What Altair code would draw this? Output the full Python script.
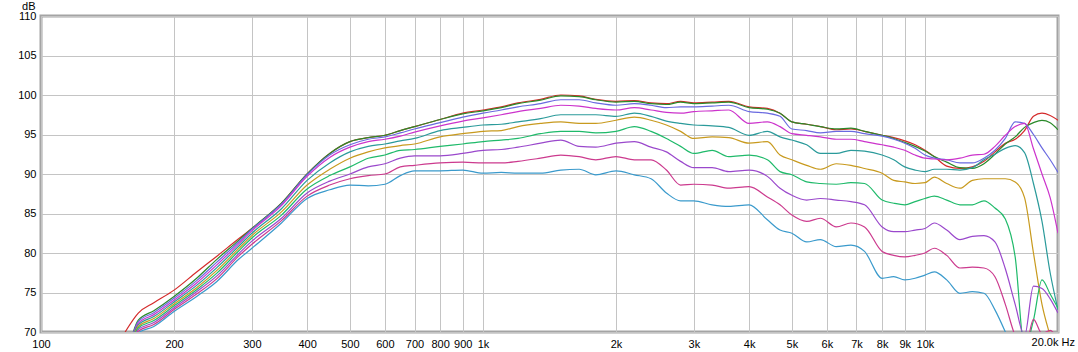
import altair as alt
import pandas as pd

# Frequencies (Hz) shared by every curve
FREQ = [155, 166, 180, 200, 225, 250, 280, 300, 350,
        400, 450, 500, 550, 600, 650, 700, 800, 900, 1000,
        1100, 1200, 1350, 1500, 1650, 1800, 2000, 2200, 2400, 2600, 2800,
        3000, 3300, 3600, 4000, 4400, 4700, 5000, 5400, 5800,
        6300, 6800, 7300, 8000, 8500, 9000, 9500, 10000, 10500, 11200,
        12000, 12800, 13600, 14400, 15200, 16000, 16800, 17600, 18400, 19200, 20000]

RED = [70.0, 72.4, 73.7, 75.3, 77.6, 79.6, 81.8, 83.1, 86.3,
       90.0, 92.6, 94.1, 94.6, 94.9, 95.5, 96.0, 96.9, 97.7, 98.1,
       98.5, 99.0, 99.45, 100.0, 99.9, 99.45, 99.2, 99.3, 99.0, 98.9, 99.2,
       99.0, 99.1, 99.2, 98.5, 98.3, 97.7, 96.6, 96.3, 96.0,
       95.6, 95.7, 95.4, 94.9, 94.6, 94.2, 93.7, 93.0, 92.2, 91.0,
       90.7, 90.9, 91.6, 92.8, 93.9, 94.4, 95.5, 97.3, 97.7, 97.4, 96.8]
DGREEN = [66.0, 71.5, 72.7, 74.5, 76.8, 79.2, 81.6, 83.1, 86.3,
          90.0, 92.6, 94.1, 94.6, 94.9, 95.5, 96.0, 96.9, 97.6, 98.0,
          98.4, 98.9, 99.35, 99.9, 99.8, 99.4, 99.1, 99.2, 98.9, 98.8, 99.1,
          98.9, 99.0, 99.1, 98.4, 98.2, 97.7, 96.6, 96.3, 96.0,
          95.7, 95.8, 95.4, 94.9, 94.5, 94.0, 93.5, 92.9, 92.2, 91.5,
          90.8, 90.7, 91.3, 92.5, 93.8, 94.7, 95.9, 96.5, 96.8, 96.5, 95.6]
SLATE = [66.0, 71.3, 72.45, 74.26, 76.5, 78.85, 81.4, 83.0, 86.2,
         89.9, 92.4, 93.7, 94.4, 94.7, 95.2, 95.7, 96.5, 97.2, 97.7,
         98.1, 98.5, 98.9, 99.4, 99.4, 99.0, 98.7, 98.9, 98.7, 98.4, 98.5,
         98.5, 98.6, 98.7, 97.9, 97.7, 97.3, 95.7, 95.5, 95.2,
         95.4, 95.4, 95.1, 94.8, 94.4, 93.9, 93.25, 92.4, 92.0, 91.8,
         91.4, 91.4, 92.0, 93.0, 94.5, 96.6, 96.4, 95.0, 93.3, 91.8, 90.2]
MAGENTA = [66.0, 71.1, 72.2, 74.02, 76.2, 78.5, 81.15, 82.8, 86.0,
           89.7, 92.1, 93.4, 94.1, 94.4, 94.8, 95.3, 96.1, 96.7, 97.1,
           97.5, 97.9, 98.3, 98.7, 98.6, 98.3, 98.1, 98.4, 98.1, 97.8, 97.7,
           97.9, 98.0, 98.1, 96.4, 96.6, 96.0, 95.1, 94.9, 94.7,
           94.4, 94.4, 94.1, 93.7, 93.4, 93.0, 92.4, 92.0, 91.9, 91.8,
           92.0, 92.4, 92.5, 93.5, 94.9, 96.0, 96.4, 93.2, 90.0, 87.0, 82.5]
TEAL = [66.0, 70.9, 71.95, 73.79, 75.9, 78.15, 80.85, 82.5, 85.6,
        89.2, 91.4, 92.8, 93.5, 93.8, 94.2, 94.5, 95.5, 95.9, 96.2,
        96.3, 96.6, 97.0, 97.5, 97.5, 97.5, 97.3, 97.7, 97.3, 96.7, 96.4,
        96.2, 96.1, 95.9, 94.9, 95.4, 94.7, 94.3, 93.7, 92.6,
        92.6, 93.0, 92.9, 92.4, 91.8, 90.9, 90.5, 90.3, 90.6, 90.6,
        90.5, 90.8, 91.8, 92.5, 93.25, 93.6, 92.7, 88.8, 84.0, 77.5, 72.8]
GOLD = [66.0, 70.7, 71.7, 73.55, 75.6, 77.8, 80.55, 82.2, 85.2,
        88.6, 90.6, 92.0, 92.8, 93.3, 93.6, 93.8, 94.7, 95.1, 95.4,
        95.5, 96.0, 96.4, 96.6, 96.4, 96.4, 96.8, 97.2, 96.8, 96.2, 95.4,
        94.5, 94.7, 94.6, 93.9, 94.1, 92.4, 91.8, 91.1, 90.6,
        91.3, 91.1, 90.7, 90.1, 89.2, 89.0, 88.8, 88.9, 89.6, 88.8,
        88.2, 89.2, 89.4, 89.4, 89.4, 89.0, 87.0, 80.0, 73.5, 69.5, 66.0]
GREEN = [66.0, 70.5, 71.45, 73.31, 75.35, 77.45, 80.25, 81.9, 84.8,
         88.1, 89.8, 90.9, 92.0, 92.4, 93.0, 93.1, 93.5, 93.8, 94.1,
         94.3, 94.5, 95.1, 95.4, 95.4, 95.2, 95.4, 96.0, 95.4, 94.5, 93.5,
         92.6, 93.0, 92.2, 92.4, 91.8, 90.3, 89.9, 89.0, 88.8,
         88.7, 88.9, 88.8, 86.7, 86.3, 86.1, 86.5, 86.9, 87.2, 86.7,
         86.1, 86.1, 86.6, 85.7, 84.3, 79.5, 68.0, 71.5, 76.6, 74.8, 73.0]
PURPLE = [66.0, 70.3, 71.2, 73.07, 75.1, 77.1, 79.9, 81.5, 84.4,
          87.6, 89.1, 90.0, 90.9, 91.3, 92.0, 92.3, 92.3, 92.6, 93.0,
          93.1, 93.4, 93.9, 94.3, 93.5, 93.4, 93.9, 94.1, 93.4, 92.8, 91.6,
          90.8, 90.8, 90.3, 90.5, 89.7, 88.2, 87.3, 86.7, 86.9,
          86.7, 86.5, 86.1, 83.3, 82.7, 82.7, 82.9, 83.1, 83.8, 82.9,
          81.7, 82.1, 82.2, 81.4, 78.0, 73.5, 69.5, 75.8, 75.5, 74.2, 72.4]
CRIMSON = [66.0, 70.1, 70.95, 72.84, 74.8, 76.75, 79.6, 81.1, 84.1,
           87.2, 88.6, 89.4, 89.8, 90.0, 90.9, 91.1, 91.4, 91.5, 91.4,
           91.4, 91.6, 92.0, 92.4, 92.2, 91.8, 92.2, 91.8, 91.8, 90.5, 88.6,
           88.7, 88.6, 88.2, 88.4, 87.1, 86.1, 84.8, 84.0, 84.4,
           83.3, 83.8, 83.3, 80.2, 79.7, 79.5, 79.7, 80.0, 80.6, 79.7,
           78.1, 78.2, 78.1, 77.0, 73.5, 69.5, 67.5, 71.6, 69.8, 70.2, 69.0]
LBLUE = [66.0, 69.9, 70.7, 72.6, 74.5, 76.4, 79.2, 80.6, 83.8,
         86.9, 88.0, 88.6, 88.5, 88.7, 89.8, 90.4, 90.4, 90.5, 90.1,
         90.2, 90.1, 90.1, 90.5, 90.6, 89.9, 90.4, 89.9, 89.4, 87.6, 86.6,
         86.6, 86.1, 85.9, 86.1, 84.2, 82.9, 82.5, 81.4, 81.7,
         80.8, 81.0, 80.2, 76.8, 77.0, 76.6, 76.8, 77.2, 77.6, 76.6,
         74.9, 75.1, 74.9, 72.8, 70.0, 67.0, 65.0, 64.0, 63.0, 62.0, 61.0]

NAMES = ["c0", "c1", "c2", "c3", "c4", "c5", "c6", "c7", "c8", "c9"]
COLORS = ["#d42a2a", "#2a8a2a", "#6a6ae0", "#cc33cc", "#2a9a9a",
          "#c89a1e", "#1fba6a", "#9a48cc", "#cc3a8e", "#3a9acc"]
CURVES = [RED, DGREEN, SLATE, MAGENTA, TEAL, GOLD, GREEN, PURPLE, CRIMSON, LBLUE]

XTICKS = [100, 200, 300, 400, 500, 600, 700, 800, 900,
          1000, 2000, 3000, 4000, 5000, 6000, 7000, 8000, 9000, 10000, 20000]
YTICKS = [70, 75, 80, 85, 90, 95, 100, 105, 110]
END_LABEL = "20.0k Hz"

rows = []
for i, (name, vals) in enumerate(zip(NAMES, CURVES)):
    for f, v in zip(FREQ, vals):
        rows.append({"curve": name, "idx": i, "freq": f, "db": v})
df = pd.DataFrame(rows)

FONT = "Liberation Sans"
x_scale = alt.Scale(type="log", domain=[100, 20000], nice=False)
y_scale = alt.Scale(domain=[70, 110], nice=False, zero=False)

x_axis = alt.Axis(values=XTICKS, title=None, grid=True, ticks=False, domain=False,
                  labelExpr="datum.value >= 20000 ? '' : (datum.value >= 1000 ? (datum.value / 1000) + 'k' : '' + datum.value)",
                  labelPadding=6, labelFlush=False, labelOverlap=False)
y_axis = alt.Axis(values=YTICKS, title="dB", grid=True, ticks=False, domain=False,
                  labelPadding=5, labelOverlap=False, labelFlush=False,
                  titleAngle=0, titleX=-6, titleY=-10,
                  titleAlign="right", titleBaseline="middle",
                  titleFontWeight="normal", titleFont=FONT, titleFontSize=11,
                  titleColor="black")

lines = alt.Chart(df).mark_line(strokeWidth=1.2, clip=True, interpolate="monotone").encode(
    x=alt.X("freq:Q", scale=x_scale, axis=x_axis),
    y=alt.Y("db:Q", scale=y_scale, axis=y_axis),
    color=alt.Color("curve:N", scale=alt.Scale(domain=NAMES, range=COLORS), legend=None),
    order=alt.Order("idx:Q"),
)

hz = alt.Chart(pd.DataFrame({"freq": [20000], "db": [70], "t": [END_LABEL]})).mark_text(
    align="right", baseline="middle", dx=17, dy=11, font=FONT, fontSize=11, color="black"
).encode(
    x=alt.X("freq:Q", scale=x_scale, axis=x_axis),
    y=alt.Y("db:Q", scale=y_scale, axis=y_axis),
    text="t:N",
)

chart = alt.layer(lines, hz).properties(
    width=1017, height=316,
    autosize=alt.AutoSizeParams(type="none"),
    padding={"left": 41, "top": 16, "right": 20, "bottom": 20},
    background="white",
).configure_view(
    stroke="#a4a4a4", strokeWidth=3
).configure_axis(
    labelFont=FONT, labelFontSize=11, labelColor="black",
    gridColor="#c4c4c4", gridWidth=1, gridOpacity=1,
)

chart.save("out.html", embed_options={"renderer": "svg", "actions": False})
